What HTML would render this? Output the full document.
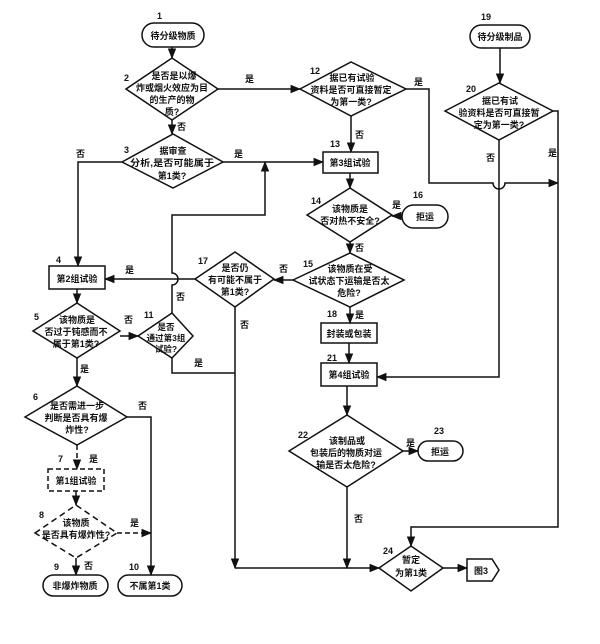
<!DOCTYPE html>
<html><head><meta charset="utf-8"><style>
html,body{margin:0;padding:0;background:#fff}
svg text{font-family:"Liberation Sans","Noto Sans CJK SC",sans-serif;font-weight:bold;fill:#111}
</style></head><body>
<svg width="600" height="639" viewBox="0 0 600 639" xmlns="http://www.w3.org/2000/svg">
<defs>
<marker id="a" viewBox="0 0 10 10" refX="9" refY="5" markerWidth="7" markerHeight="7" orient="auto"><path d="M0,1 L10,5 L0,9 z" fill="#111"/></marker>
</defs>
<g stroke="#111" stroke-width="1.5" fill="none">
<rect x="142" y="23" width="62" height="24" rx="12" fill="#fff"/>
<polygon points="126,89 172,58 218,89 172,120" fill="#fff"/>
<polygon points="122,162 173,134 223,162 173,188" fill="#fff"/>
<rect x="49" y="266" width="56" height="23" fill="#fff"/>
<polygon points="33,331 77,303 120,331 77,358" fill="#fff"/>
<polygon points="138,336 172,313 193,336 172,358" fill="#fff"/>
<polygon points="25,417 77,386 127,417 77,445" fill="#fff"/>
<rect x="48" y="469" width="56" height="22" fill="#fff" stroke-dasharray="5,3"/>
<polygon points="35,533 76,505 117,533 76,558" fill="#fff" stroke-dasharray="6,4"/>
<rect x="43" y="575" width="65" height="21" rx="10.5" fill="#fff"/>
<rect x="118" y="575" width="64" height="21" rx="10.5" fill="#fff"/>
<polygon points="300,89 351,62 406,89 351,116" fill="#fff"/>
<rect x="323" y="152" width="55" height="21" fill="#fff"/>
<polygon points="307,215 350,188 392,215 350,242" fill="#fff"/>
<rect x="402" y="205" width="46" height="23" rx="11.5" fill="#fff"/>
<polygon points="293,280 350,253 404,280 350,307" fill="#fff"/>
<polygon points="195,279 235,252 274,279 235,307" fill="#fff"/>
<rect x="321" y="323" width="56" height="20" fill="#fff"/>
<rect x="321" y="363" width="56" height="23" fill="#fff"/>
<polygon points="289,451 347,415 403,451 347,487" fill="#fff"/>
<rect x="418" y="441" width="45" height="20" rx="10" fill="#fff"/>
<polygon points="379,568 411,546 443,568 411,591" fill="#fff"/>
<polygon points="467,559 492,559 499,570 492,581 467,581" fill="#fff"/>
<rect x="470" y="25" width="60" height="23" rx="11.5" fill="#fff"/>
<polygon points="445,111 499,83 553,111 499,140" fill="#fff"/>
<line x1="172" y1="47" x2="172" y2="58" marker-end="url(#a)"/>
<line x1="218" y1="89" x2="300" y2="89" marker-end="url(#a)"/>
<line x1="172" y1="120" x2="172" y2="134" marker-end="url(#a)"/>
<line x1="223" y1="162" x2="323" y2="162" marker-end="url(#a)"/>
<polyline points="122,162 78,162 78,266" marker-end="url(#a)"/>
<line x1="351" y1="116" x2="351" y2="152" marker-end="url(#a)"/>
<line x1="350" y1="173" x2="350" y2="188" marker-end="url(#a)"/>
<line x1="402" y1="216" x2="392" y2="216" marker-end="url(#a)"/>
<line x1="350" y1="242" x2="350" y2="253" marker-end="url(#a)"/>
<line x1="293" y1="280" x2="274" y2="280" marker-end="url(#a)"/>
<line x1="195" y1="279" x2="105" y2="279" marker-end="url(#a)"/>
<path d="M172,313 L172,285 A6,6 0 0 0 172,273 L172,215 L265,215 L265,162" marker-end="url(#a)"/>
<line x1="350" y1="307" x2="350" y2="323" marker-end="url(#a)"/>
<line x1="349" y1="343" x2="349" y2="363" marker-end="url(#a)"/>
<line x1="77" y1="289" x2="77" y2="303" marker-end="url(#a)"/>
<line x1="120" y1="336" x2="138" y2="336" marker-end="url(#a)"/>
<line x1="77" y1="358" x2="77" y2="386" marker-end="url(#a)"/>
<polyline points="172,358 172,373 235,373"/>
<polyline points="235,307 235,568" marker-end="url(#a)"/>
<polyline points="127,417 151,417 151,575" marker-end="url(#a)"/>
<line x1="77" y1="445" x2="77" y2="469" stroke-dasharray="5,3" marker-end="url(#a)"/>
<line x1="76" y1="491" x2="76" y2="505" marker-end="url(#a)"/>
<line x1="117" y1="533" x2="151" y2="533" stroke-dasharray="5,3" marker-end="url(#a)"/>
<line x1="76" y1="558" x2="76" y2="575" marker-end="url(#a)"/>
<polyline points="235,568 379,568" marker-end="url(#a)"/>
<line x1="347" y1="386" x2="347" y2="415" marker-end="url(#a)"/>
<line x1="403" y1="451" x2="418" y2="451" marker-end="url(#a)"/>
<line x1="347" y1="487" x2="347" y2="568" marker-end="url(#a)"/>
<line x1="443" y1="568" x2="467" y2="568" marker-end="url(#a)"/>
<line x1="500" y1="48" x2="500" y2="83" marker-end="url(#a)"/>
<path d="M406,89 L429,89 L429,183 L493,183 A6,6 0 0 0 505,183 L558,183" marker-end="url(#a)"/>
<polyline points="553,111 558,111 558,527 411,527 411,546" marker-end="url(#a)"/>
<polyline points="499,140 499,377 377,377" marker-end="url(#a)"/>
</g>
<g font-size="9" text-anchor="middle">
<text x="173" y="39">待分级物质</text>
<text x="174" y="79">是否是以爆</text><text x="172" y="91">炸或烟火效应为目</text><text x="172" y="103">的生产的物</text><text x="172" y="115">质?</text>
<text x="173" y="154">据审查</text><text x="172" y="166" textLength="84" lengthAdjust="spacingAndGlyphs">分析,是否可能属于</text><text x="172" y="179">第1类?</text>
<text x="77" y="282">第2组试验</text>
<text x="77" y="323">该物质是</text><text x="76" y="335">否过于钝感而不</text><text x="76" y="347">属于第1类?</text>
<text x="166" y="330" font-size="8.5">是否</text><text x="166" y="341" font-size="8.5">通过第3组</text><text x="166" y="352" font-size="8.5">试验?</text>
<text x="77" y="409">是否需进一步</text><text x="76" y="421">判断是否具有爆</text><text x="77" y="433">炸性?</text>
<text x="76" y="484">第1组试验</text>
<text x="76" y="526">该物质</text><text x="76" y="538">是否具有爆炸性?</text>
<text x="75" y="589">非爆炸物质</text>
<text x="150" y="589">不属第1类</text>
<text x="352" y="81">据已有试验</text><text x="351" y="93">资料是否可直接暂定</text><text x="351" y="105">为第一类?</text>
<text x="350" y="166">第3组试验</text>
<text x="350" y="212">该物质是</text><text x="350" y="224">否对热不安全?</text>
<text x="425" y="220">拒运</text>
<text x="350" y="272">该物质在受</text><text x="349" y="284">试状态下运输是否太</text><text x="349" y="296">危险?</text>
<text x="235" y="271">是否仍</text><text x="235" y="283">有可能不属于</text><text x="235" y="295">第1类?</text>
<text x="349" y="337">封装或包装</text>
<text x="349" y="378">第4组试验</text>
<text x="347" y="444">该制品或</text><text x="346" y="456">包装后的物质对运</text><text x="346" y="468">输是否太危险?</text>
<text x="440" y="455">拒运</text>
<text x="411" y="563">暂定</text><text x="411" y="576">为第1类</text>
<text x="481" y="574">图3</text>
<text x="500" y="40">待分级制品</text>
<text x="500" y="104">据已有试</text><text x="499" y="116">验资料是否可直接暂</text><text x="499" y="128">定为第一类?</text>
</g>
<g font-size="9">
<text x="157" y="19">1</text><text x="124" y="81">2</text><text x="124" y="153">3</text><text x="56" y="263">4</text>
<text x="34" y="320">5</text><text x="144" y="318">11</text><text x="33" y="400">6</text><text x="58" y="462">7</text>
<text x="39" y="518">8</text><text x="54" y="570">9</text><text x="129" y="570">10</text><text x="310" y="74">12</text>
<text x="330" y="147">13</text><text x="311" y="204">14</text><text x="413" y="198">16</text><text x="303" y="267">15</text>
<text x="198" y="264">17</text><text x="327" y="317">18</text><text x="327" y="361">21</text><text x="298" y="438">22</text>
<text x="434" y="434">23</text><text x="383" y="554">24</text><text x="481" y="20">19</text><text x="466" y="92">20</text>
</g>
<g font-size="9">
<text x="245" y="82">是</text><text x="177" y="130">否</text><text x="76" y="157">否</text><text x="234" y="157">是</text>
<text x="125" y="273">是</text><text x="279" y="272">否</text><text x="176" y="300">否</text><text x="124" y="323">否</text>
<text x="80" y="372">是</text><text x="194" y="366">是</text><text x="240" y="328">否</text><text x="138" y="409">否</text>
<text x="89" y="462">是</text><text x="130" y="526">是</text><text x="84" y="569">否</text>
<text x="414" y="85">是</text><text x="355" y="138">否</text><text x="392" y="208">是</text><text x="355" y="251">否</text>
<text x="355" y="318">是</text><text x="406" y="446">是</text><text x="354" y="522">否</text>
<text x="486" y="161">否</text><text x="548" y="156">是</text>
</g>
</svg>
</body></html>
